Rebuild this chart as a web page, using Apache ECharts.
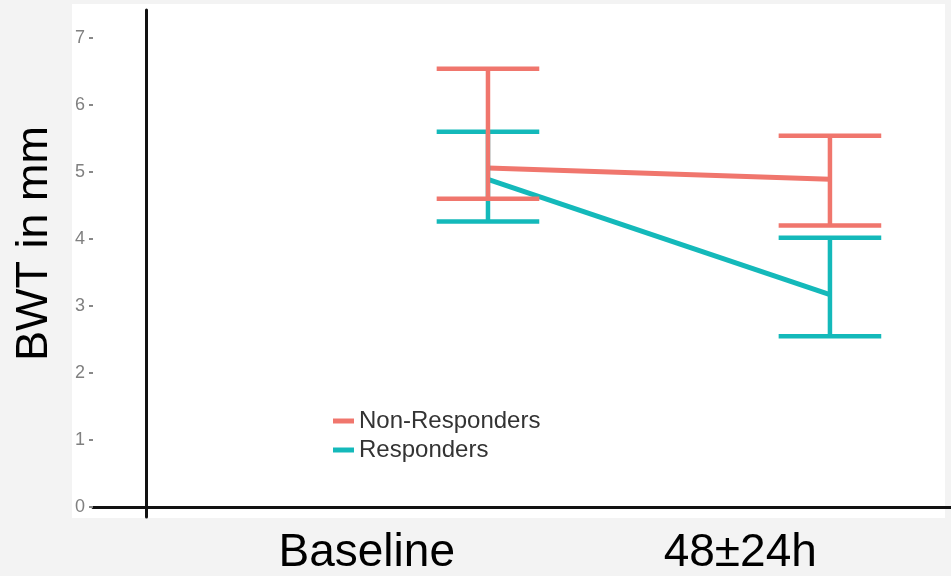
<!DOCTYPE html>
<html>
<head>
<meta charset="utf-8">
<script src="https://cdn.jsdelivr.net/npm/echarts@6/dist/echarts.min.js"></script>
<style>html,body{margin:0;padding:0;background:#f3f3f3;}#c{width:951px;height:576px;}</style>
</head>
<body>
<div id="c"></div>
<script>
// ---- data ----
const categories = ['Baseline', '48\u00b124h'];
const timePositions = [1, 2];              // where each time point sits on the plot's value axis
const groups = ['Non-Responders', 'Responders'];
const nonRespMean = [5.06, 4.89];
const nonRespLow  = [4.60, 4.20];
const nonRespHigh = [6.54, 5.54];
const respMean = [4.89, 3.17];
const respLow  = [4.26, 2.55];
const respHigh = [5.60, 4.02];
const yTicks = [0, 1, 2, 3, 4, 5, 6, 7];
const yTitle = 'BWT in mm';

const RED = '#F0766D', TEAL = '#14B9BA';

function meanData(m) { return timePositions.map((x, i) => [x, m[i]]); }
function errData(lo, hi) { return timePositions.map((x, i) => [x, lo[i], hi[i]]); }

function makeErr(color) {
  return function (params, api) {
    const x = api.value(0), lo = api.value(1), hi = api.value(2);
    const pLo = api.coord([x, lo]), pHi = api.coord([x, hi]);
    const hw = api.size([0.3, 0])[0] / 2;
    const st = { stroke: color, lineWidth: 4.5, lineCap: 'butt' };
    return {
      type: 'group',
      children: [
        { type: 'line', shape: { x1: pLo[0], y1: pLo[1], x2: pHi[0], y2: pHi[1] }, style: st },
        { type: 'line', shape: { x1: pLo[0] - hw, y1: pLo[1], x2: pLo[0] + hw, y2: pLo[1] }, style: st },
        { type: 'line', shape: { x1: pHi[0] - hw, y1: pHi[1], x2: pHi[0] + hw, y2: pHi[1] }, style: st }
      ]
    };
  };
}

const chart = echarts.init(document.getElementById('c'), null, { renderer: 'canvas' });
chart.setOption({
  animation: false,
  backgroundColor: '#f3f3f3',
  graphic: [{
    type: 'rect', z: -10, silent: true,
    shape: { x: 72, y: 4, width: 873, height: 514 },
    style: { fill: '#ffffff' }
  }],
  grid: [
    { left: 93, right: 0, top: 38, bottom: 69 },
    { left: 146, width: 2, top: 10, bottom: 59 },
    { left: 180, right: 24, top: 400, bottom: 69 }
  ],
  xAxis: [
    { gridIndex: 0, type: 'value', min: -0.155, max: 2.354,
      axisLine: { show: true, onZero: false, lineStyle: { color: '#111', width: 3 } },
      axisTick: { show: false }, axisLabel: { show: false }, splitLine: { show: false } },
    { gridIndex: 1, type: 'value', show: false, min: 0, max: 1 },
    { gridIndex: 2, type: 'category', data: categories,
      axisLine: { show: false }, axisTick: { show: false },
      axisLabel: { margin: 34, fontSize: 46, color: '#000', fontFamily: 'Liberation Sans, Arial, sans-serif' } }
  ],
  yAxis: [
    { gridIndex: 0, type: 'value', min: yTicks[0], max: yTicks[yTicks.length - 1], interval: 1,
      axisLine: { show: false, onZero: false },
      axisTick: { show: true, length: 4, lineStyle: { color: '#888', width: 2 } },
      axisLabel: { margin: 8, fontSize: 18, color: '#808080', fontFamily: 'Liberation Sans Narrow, Liberation Sans, sans-serif' },
      splitLine: { show: false },
      name: yTitle, nameLocation: 'middle', nameRotate: 90, nameGap: 36,
      nameTextStyle: { fontSize: 45, color: '#000', fontFamily: 'Liberation Sans, Arial, sans-serif', padding: [0, 0, 0, 58] } },
    { gridIndex: 1, type: 'value', min: 0, max: 1,
      axisLine: { show: true, onZero: false, lineStyle: { color: '#111', width: 3 } },
      axisTick: { show: false }, axisLabel: { show: false }, splitLine: { show: false } },
    { gridIndex: 2, type: 'value', show: false }
  ],
  legend: {
    data: groups, orient: 'vertical', left: 328, top: 404,
    icon: 'rect', itemWidth: 21, itemHeight: 5, itemGap: 5,
    textStyle: { fontSize: 24, color: '#333', fontFamily: 'Liberation Sans, Arial, sans-serif' }
  },
  series: [
    { name: groups[0], type: 'line', xAxisIndex: 0, yAxisIndex: 0, data: meanData(nonRespMean),
      showSymbol: false, symbol: 'none', color: RED, lineStyle: { width: 5, color: RED }, z: 3 },
    { name: groups[1], type: 'line', xAxisIndex: 0, yAxisIndex: 0, data: meanData(respMean),
      showSymbol: false, symbol: 'none', color: TEAL, lineStyle: { width: 5, color: TEAL }, z: 3 },
    { name: groups[1], type: 'custom', xAxisIndex: 0, yAxisIndex: 0, color: TEAL,
      data: errData(respLow, respHigh), renderItem: makeErr(TEAL), encode: { x: 0, y: [1, 2] }, z: 4 },
    { name: groups[0], type: 'custom', xAxisIndex: 0, yAxisIndex: 0, color: RED,
      data: errData(nonRespLow, nonRespHigh), renderItem: makeErr(RED), encode: { x: 0, y: [1, 2] }, z: 4 }
  ]
});
</script>
</body>
</html>
